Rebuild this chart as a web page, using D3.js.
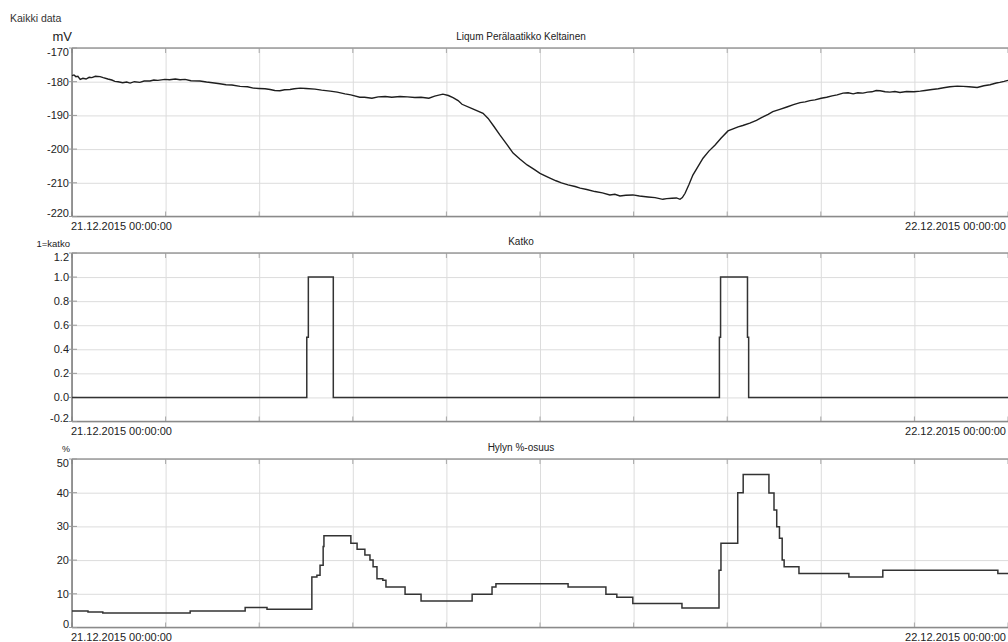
<!DOCTYPE html>
<html lang="fi">
<head>
  <meta charset="UTF-8">
  <title>Kaikki data</title>
  <script src="https://d3js.org/d3.v7.min.js"></script>
  <style>
    body {
      margin: 0;
      background: #fff;
      font-family: "Liberation Sans", Arial, sans-serif;
    }
    .grid line {
      stroke: #dcdcdc;
    }
    .grid path {
      display: none;
    }
    .tick-label {
      font-size: 11px;
      fill: #222;
    }
    .title {
      font-size: 10px;
      fill: #222;
      text-anchor: middle;
    }
  </style>
</head>
<body>
  <div id="chart"></div>

  <script>
    // Liqum Perälaatikko Keltainen (mV) - hours from 21.12.2015 00:00
    const mvHours = [0.00, 0.05, 0.10, 0.15, 0.21, 0.28, 0.36, 0.44, 0.51, 0.60, 0.72, 0.80, 0.92, 1.02, 1.10,
      1.18, 1.30, 1.40, 1.49, 1.60, 1.74, 1.85, 2.00, 2.10, 2.20, 2.38, 2.50, 2.65, 2.77, 2.90, 3.05, 3.28,
      3.45, 3.60, 3.79, 3.95, 4.10, 4.31, 4.50, 4.65, 4.79, 4.95, 5.08, 5.20, 5.33, 5.45, 5.59, 5.70, 5.85,
      6.00, 6.23, 6.40, 6.62, 6.80, 7.00, 7.15, 7.38, 7.50, 7.69, 7.85, 8.03, 8.20, 8.41, 8.60, 8.79, 8.95,
      9.15, 9.30, 9.51, 9.65, 9.77, 9.90, 10.00, 10.26, 10.54, 10.67, 10.82, 10.97, 11.15, 11.31, 11.49, 11.67,
      11.85, 12.00, 12.20, 12.41, 12.55, 12.72, 12.90, 13.03, 13.20, 13.41, 13.60, 13.79, 13.92, 14.05, 14.20,
      14.38, 14.55, 14.77, 14.95, 15.15, 15.25, 15.38, 15.50, 15.59, 15.65, 15.72, 15.82, 15.92, 16.05, 16.18,
      16.33, 16.49, 16.64, 16.82, 16.95, 17.08, 17.20, 17.38, 17.55, 17.69, 17.85, 17.97, 18.15, 18.33, 18.50,
      18.67, 18.80, 18.92, 19.05, 19.21, 19.35, 19.49, 19.62, 19.77, 19.90, 20.03, 20.15, 20.28, 20.40, 20.51,
      20.62, 20.72, 20.85, 20.97, 21.10, 21.23, 21.40, 21.59, 21.75, 21.87, 22.05, 22.21, 22.35, 22.51, 22.70,
      22.85, 23.00, 23.21, 23.38, 23.54, 23.70, 23.79, 23.90, 24.00];
    const mvValues = [-178.2, -178.0, -178.5, -178.4, -179.3, -179.0, -179.2, -178.7, -178.8, -178.4, -178.5, -178.8, -179.2, -179.5, -179.9,
      -180.0, -180.3, -180.1, -180.4, -180.0, -180.2, -179.8, -179.8, -179.5, -179.6, -179.3, -179.4, -179.2, -179.4, -179.3, -179.7, -179.8,
      -180.1, -180.3, -180.6, -180.9, -181.0, -181.4, -181.5, -181.9, -182.0, -182.1, -182.3, -182.6, -182.7, -182.4, -182.3, -182.1, -181.9,
      -182.0, -182.2, -182.5, -182.8, -183.1, -183.6, -183.9, -184.6, -184.6, -184.9, -184.5, -184.4, -184.6, -184.4, -184.5, -184.7, -184.6,
      -184.9, -184.3, -183.7, -184.1, -184.7, -185.6, -186.7, -188.0, -189.4, -190.9, -193.3, -195.8, -198.6, -201.2, -203.0, -204.7,
      -206.0, -207.2, -208.3, -209.4, -210.0, -210.6, -211.1, -211.6, -212.0, -212.6, -213.0, -213.6, -213.4, -213.9, -213.7,
      -213.6, -213.9, -214.2, -214.4, -214.9, -214.7, -214.6, -214.5, -214.9, -214.4, -213.1, -210.5, -207.7, -205.2, -202.7,
      -200.6, -198.8, -196.8, -194.6, -194.0, -193.4, -193.0, -192.3, -191.5, -190.6, -189.7, -188.9, -188.2, -187.5, -186.8,
      -186.2, -186.0, -185.6, -185.4, -184.9, -184.6, -184.2, -183.9, -183.4, -183.3, -183.6, -183.3, -183.4, -183.1, -183.0,
      -182.6, -182.7, -183.0, -183.1, -182.9, -183.2, -182.9, -183.0, -182.8, -182.6, -182.3, -182.1, -181.8, -181.5, -181.3,
      -181.4, -181.5, -181.7, -181.2, -180.9, -180.4, -180.2, -179.9, -179.6];

    // Katko (1 = katko), step series
    const katkoHours = [0.00, 6.02, 6.06, 6.70, 16.60, 16.63, 17.32, 17.35, 24.00];
    const katkoValues = [0, 0.5, 1, 0, 0.5, 1, 0.5, 0, 0];

    // Hylyn %-osuus, step series
    const hylkyHours = [0.00, 0.41, 0.79, 3.03, 4.44, 5.00, 6.15, 6.28, 6.36, 6.44, 6.46, 7.15, 7.31, 7.51, 7.64,
      7.72, 7.82, 7.97, 8.05, 8.54, 8.95, 10.26, 10.77, 10.87, 12.72, 13.69, 13.97, 14.38, 15.64, 16.59, 16.64,
      17.07, 17.21, 17.87, 18.00, 18.07, 18.14, 18.21, 18.26, 18.64, 19.92, 20.79, 23.74, 24.00];
    const hylkyValues = [4.9, 4.6, 4.3, 4.9, 5.9, 5.4, 15.0, 15.5, 18.5, 24.0, 27.2, 25.0, 23.2, 21.5, 20.0,
      18.0, 14.5, 14.0, 12.0, 9.9, 7.9, 9.9, 12.0, 13.0, 12.0, 9.9, 9.0, 7.1, 5.8, 17.0, 25.0,
      40.0, 45.4, 39.9, 34.9, 29.9, 26.5, 20.0, 18.0, 16.0, 15.0, 17.0, 16.0, 16.0];

    // Axis ticks
    const mvTicks = [-220, -210, -200, -190, -180, -170];
    const katkoTicks = [-0.2, 0.0, 0.2, 0.4, 0.6, 0.8, 1.0, 1.2];
    const hylkyTicks = [0, 10, 20, 30, 40, 50];
    const dateLabels = ["21.12.2015 00:00:00", "22.12.2015 00:00:00"];

    const startTime = new Date(2015, 11, 21, 0, 0, 0);
    const endTime = new Date(2015, 11, 22, 0, 0, 0);
    const toDate = h => new Date(startTime.getTime() + h * 3600 * 1000);

    // plain hyphen instead of unicode minus, like the original
    const fmt = spec => v => d3.format(spec)(v).replace("\u2212", "-");

    const W = 1008, H = 642;
    const left = 72, right = 1008;
    const plotH = 168.5;

    const svg = d3.select("#chart").append("svg")
      .attr("width", W)
      .attr("height", H);

    svg.append("text")
      .attr("x", 10).attr("y", 22)
      .style("font-size", "10.5px").style("fill", "#333")
      .text("Kaikki data");

    const x = d3.scaleTime()
      .domain([startTime, endTime])
      .range([left, right]);

    // 10 equal grid divisions along the time axis
    const gridTimes = d3.range(0, 11).map(i => toDate(i * 2.4));

    function drawPanel(opt) {
      const top = opt.top, bottom = opt.top + plotH;
      const y = d3.scaleLinear().domain(opt.domain).range([bottom, top]);
      const g = svg.append("g");

      // grid
      g.append("g")
        .attr("class", "grid")
        .attr("transform", "translate(0," + bottom + ")")
        .call(d3.axisBottom(x).tickValues(gridTimes).tickSize(-plotH).tickFormat(""));
      g.append("g")
        .attr("class", "grid")
        .attr("transform", "translate(" + left + ",0)")
        .call(d3.axisLeft(y).tickValues(opt.ticks).tickSize(-(right - left)).tickFormat(""));

      // short inner ticks at top and bottom
      gridTimes.forEach(t => {
        g.append("line").attr("x1", x(t)).attr("x2", x(t)).attr("y1", top).attr("y2", top + 5)
          .attr("stroke", "#a8a8a8");
        g.append("line").attr("x1", x(t)).attr("x2", x(t)).attr("y1", bottom - 5).attr("y2", bottom)
          .attr("stroke", "#a8a8a8");
      });

      // frame
      g.append("line").attr("x1", left).attr("x2", right).attr("y1", top).attr("y2", top)
        .attr("stroke", "#9a9a9a").attr("stroke-width", 1.5);
      g.append("line").attr("x1", left).attr("x2", right).attr("y1", bottom).attr("y2", bottom)
        .attr("stroke", "#8a8a8a").attr("stroke-width", 1.5);
      g.append("line").attr("x1", left).attr("x2", left).attr("y1", top).attr("y2", bottom)
        .attr("stroke", "#777").attr("stroke-width", 1.5);

      // y ticks and labels
      opt.ticks.forEach((v, i) => {
        g.append("line").attr("x1", left - 3).attr("x2", left + 5).attr("y1", y(v)).attr("y2", y(v))
          .attr("stroke", "#999");
        let dy = 4;
        if (i === 0) dy = 0;
        if (i === opt.ticks.length - 1) dy = 8;
        g.append("text")
          .attr("class", "tick-label")
          .attr("x", left - 3)
          .attr("y", y(v) + dy)
          .attr("text-anchor", "end")
          .text(opt.tickFormat(v));
      });

      // data line
      const line = d3.line()
        .x(d => x(toDate(d[0])))
        .y(d => y(d[1]))
        .curve(opt.step ? d3.curveStepAfter : d3.curveLinear);
      const pts = opt.hours.map((h, i) => [h, opt.values[i]]);
      g.append("path")
        .datum(pts)
        .attr("fill", "none")
        .attr("stroke", opt.color)
        .attr("stroke-width", opt.width)
        .attr("d", line);

      // title and unit
      g.append("text")
        .attr("class", "title")
        .attr("x", 521)
        .attr("y", top - 8)
        .text(opt.title);
      g.append("text")
        .attr("x", opt.unitX)
        .attr("y", top - opt.unitDy)
        .attr("text-anchor", "end")
        .style("font-size", opt.unitSize)
        .style("fill", "#222")
        .text(opt.unit);

      // date labels
      g.append("text")
        .attr("class", "tick-label")
        .attr("x", left - 1)
        .attr("y", bottom + 13)
        .text(dateLabels[0]);
      g.append("text")
        .attr("class", "tick-label")
        .attr("x", 1006)
        .attr("y", bottom + 13)
        .attr("text-anchor", "end")
        .text(dateLabels[1]);
    }

    drawPanel({
      top: 48, domain: [-220, -170], ticks: mvTicks, tickFormat: fmt(".0f"),
      hours: mvHours, values: mvValues, step: false, color: "#1e1e1e", width: 1.4,
      title: "Liqum Perälaatikko Keltainen", unit: "mV", unitX: 72, unitDy: 7, unitSize: "13px"
    });

    drawPanel({
      top: 253, domain: [-0.2, 1.2], ticks: katkoTicks, tickFormat: fmt(".1f"),
      hours: katkoHours, values: katkoValues, step: true, color: "#333", width: 1.5,
      title: "Katko", unit: "1=katko", unitX: 70, unitDy: 6, unitSize: "9.5px"
    });

    drawPanel({
      top: 459, domain: [0, 50], ticks: hylkyTicks, tickFormat: fmt(".0f"),
      hours: hylkyHours, values: hylkyValues, step: true, color: "#333", width: 1.5,
      title: "Hylyn %-osuus", unit: "%", unitX: 70, unitDy: 7, unitSize: "9px"
    });
  </script>
</body>
</html>
